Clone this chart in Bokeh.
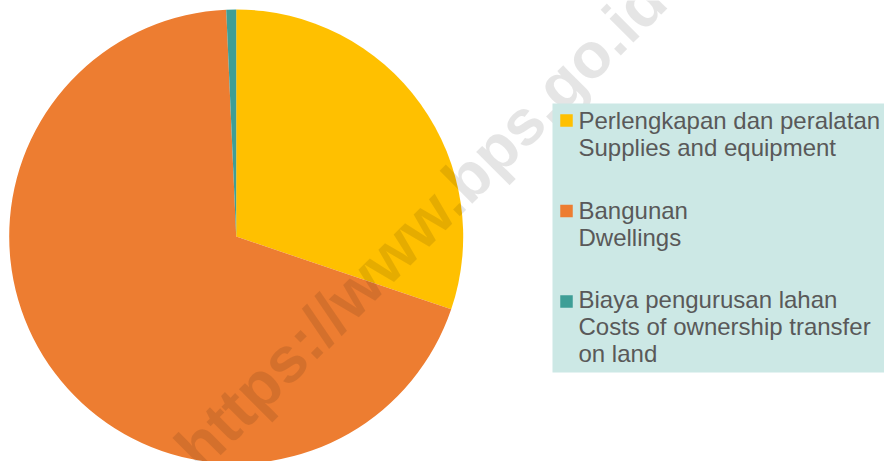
import math
from bokeh.plotting import figure
from bokeh.models import Range1d, ColumnDataSource
from bokeh.core.properties import value
from bokeh.embed import file_html
from bokeh.resources import INLINE

# ---- data ----
labels_id = ["Perlengkapan dan peralatan", "Bangunan", "Biaya pengurusan lahan"]
labels_en = ["Supplies and equipment", "Dwellings", "Costs of ownership transfer\non land"]
shares = [30.2, 69.1, 0.7]
colors = ["#FFC000", "#ED7D31", "#3E9E96"]
watermark = "https://www.bps.go.id"

W, H = 884, 461
p = figure(width=W, height=H, output_backend="svg", toolbar_location=None,
           x_range=Range1d(0, W), y_range=Range1d(0, H),
           min_border=0, outline_line_color=None)
p.axis.visible = False
p.xgrid.visible = False
p.ygrid.visible = False
p.background_fill_color = "white"
p.border_fill_color = "white"

def fy(screen_y):
    return H - screen_y

def fx(screen_x):
    return screen_x

# pie
total = sum(shares)
starts, ends = [], []
cum = 0.0
for s in shares:
    starts.append(math.pi / 2 - 2 * math.pi * cum / total)
    cum += s
    ends.append(math.pi / 2 - 2 * math.pi * cum / total)
src = ColumnDataSource(dict(start=starts, end=ends, color=colors))
p.wedge(x=fx(235.7), y=fy(236), radius=227, radius_units="data",
        start_angle="start", end_angle="end", direction="clock",
        fill_color="color", line_color=None, source=src)

# watermark
p.text(x=[fx(186)], y=[fy(458)], text=[watermark], angle=math.radians(45),
       text_font=value("Liberation Sans"), text_font_style="bold",
       text_font_size="64px", text_color="black", text_alpha=0.1,
       text_baseline="alphabetic", text_align="left")

# legend box
p.quad(left=[fx(552)], right=[W + 5], top=[fy(103)], bottom=[fy(372)],
       fill_color="#CCE8E5", line_color=None)

marker_y = [120, 210.5, 301]
base_y = [120, 210, 299]
line_gap = 27
mx, my, mc = [], [], []
tx, ty, tt = [], [], []
for i in range(len(shares)):
    mx.append(fx(566))
    my.append(fy(marker_y[i]))
    mc.append(colors[i])
    lines = [labels_id[i]] + labels_en[i].split("\n")
    for j, ln in enumerate(lines):
        tx.append(fx(578))
        ty.append(fy(base_y[i] + j * line_gap))
        tt.append(ln)
p.scatter(x=mx, y=my, marker="square", size=12.5, fill_color=mc, line_color=None)
p.text(x=tx, y=ty, text=tt, text_font=value("Liberation Sans"),
       text_font_size="24px", text_color="#595959",
       text_baseline="alphabetic", text_align="left")

open("out.html", "w").write(file_html(p, INLINE))
